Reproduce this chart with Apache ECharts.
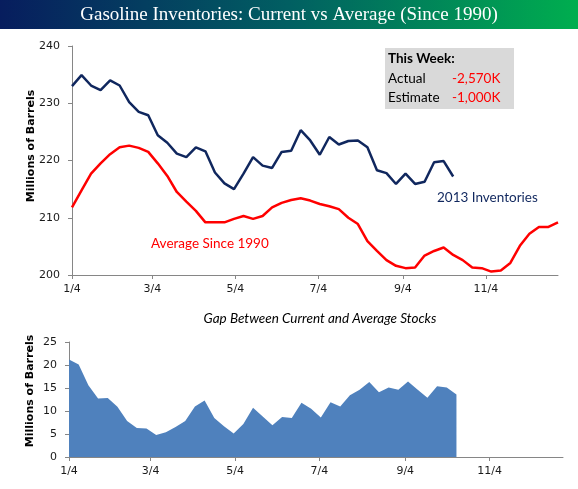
<!DOCTYPE html>
<html><head><meta charset="utf-8">
<script src="https://cdn.jsdelivr.net/npm/echarts@6/dist/echarts.min.js"></script>
<style>html,body{margin:0;padding:0;background:#fff}#c{width:578px;height:489px}</style>
</head><body><div id="c"></div>
<script>
// ---- data ----
const startWeek = '2013-01-04';
const endDate = '2013-12-27';
const tickDates = ['2013-01-04','2013-03-04','2013-05-04','2013-07-04','2013-09-04','2013-11-04'];
const tickLabels = ['1/4','3/4','5/4','7/4','9/4','11/4'];
const inventories2013 = [233.0, 234.9, 233.1, 232.3, 234.0, 233.1, 230.2, 228.5, 227.9, 224.4,
  223.1, 221.2, 220.6, 222.3, 221.6, 217.9, 216.0, 215.0, 217.7, 220.6,
  219.1, 218.7, 221.5, 221.7, 225.3, 223.5, 221.0, 224.1, 222.8, 223.4,
  223.5, 222.3, 218.3, 217.8, 215.9, 217.7, 215.9, 216.3, 219.7, 219.9, 217.2];
const averageSince1990 = [211.8, 214.8, 217.7, 219.5, 221.1, 222.3, 222.6, 222.2, 221.5, 219.5,
  217.3, 214.5, 212.8, 211.2, 209.2, 209.2, 209.2, 209.8, 210.3, 209.8,
  210.3, 211.8, 212.6, 213.1, 213.4, 213.0, 212.4, 212.0, 211.5, 210.0,
  208.9, 205.9, 204.2, 202.6, 201.6, 201.2, 201.3, 203.4, 204.2, 204.8,
  203.5, 202.6, 201.3, 201.2, 200.6, 200.8, 202.1, 205.1, 207.2, 208.4, 208.4, 209.2];
const gapStocks = [21.2, 20.1, 15.6, 12.7, 12.8, 10.9, 7.8, 6.3, 6.2, 4.8,
  5.4, 6.5, 7.8, 11.0, 12.3, 8.5, 6.7, 5.1, 7.2, 10.7,
  8.8, 6.9, 8.7, 8.5, 11.8, 10.5, 8.6, 11.9, 11.0, 13.4,
  14.6, 16.3, 14.1, 15.1, 14.6, 16.4, 14.6, 12.9, 15.4, 15.1, 13.6];
const thisWeekRows = [['Actual','-2,570K'],['Estimate','-1,000K']];

// ---- build (x = days since first week) ----
const DAY = 86400000;
const t0 = Date.parse(startWeek + 'T00:00:00Z');
const dayOf = d => Math.round((Date.parse(d + 'T00:00:00Z') - t0) / DAY);
const xMax = dayOf(endDate);
const pairs = arr => arr.map((v, i) => [i * 7, v]);
const tickVals = tickDates.map(dayOf);
const fmt = v => { const k = tickVals.indexOf(Math.round(v)); return k >= 0 ? tickLabels[k] : ''; };

const axisFont = {fontFamily: 'DejaVu Sans', fontSize: 11, color: '#1a1a1a'};
const axisLine = {show: true, lineStyle: {color: '#868686', width: 1}};

function xAxis(gi) {
  return {type: 'value', gridIndex: gi, min: 0, max: xMax,
    axisLine: axisLine,
    axisTick: {show: true, length: 4, lineStyle: {color: '#868686'}, customValues: tickVals},
    axisLabel: Object.assign({margin: 9, customValues: tickVals, formatter: fmt}, axisFont),
    splitLine: {show: false}};
}

const chart = echarts.init(document.getElementById('c'), null, {renderer: 'canvas'});
chart.setOption({
  animation: false,
  backgroundColor: '#fff',
  grid: [
    {left: 72, right: 20, top: 46, height: 229},
    {left: 69, right: 15, top: 342, height: 115}
  ],
  xAxis: [xAxis(0), xAxis(1)],
  yAxis: [
    {type: 'value', gridIndex: 0, min: 200, max: 240, interval: 10,
      axisLine: axisLine, axisTick: {show: true, length: 4, lineStyle: {color: '#868686'}},
      axisLabel: Object.assign({margin: 12}, axisFont), splitLine: {show: false}},
    {type: 'value', gridIndex: 1, min: 0, max: 25, interval: 5,
      axisLine: axisLine, axisTick: {show: true, length: 4, lineStyle: {color: '#868686'}},
      axisLabel: Object.assign({margin: 12}, axisFont), splitLine: {show: false}}
  ],
  series: [
    {type: 'line', name: 'Average Since 1990', xAxisIndex: 0, yAxisIndex: 0, data: pairs(averageSince1990),
      showSymbol: false, lineStyle: {color: '#ff0000', width: 2.5}, itemStyle: {color: '#ff0000'}},
    {type: 'line', name: '2013 Inventories', xAxisIndex: 0, yAxisIndex: 0, data: pairs(inventories2013),
      showSymbol: false, lineStyle: {color: '#10275e', width: 2.5}, itemStyle: {color: '#10275e'}},
    {type: 'line', name: 'Gap', xAxisIndex: 1, yAxisIndex: 1, data: pairs(gapStocks),
      showSymbol: false, lineStyle: {width: 0}, itemStyle: {color: '#4f81bd'},
      areaStyle: {color: '#4f81bd', opacity: 1}}
  ],
  graphic: [
    {type: 'rect', left: 0, top: 0, shape: {width: 578, height: 29}, z: 0,
      style: {fill: new echarts.graphic.LinearGradient(0, 0, 1, 0, [
        {offset: 0, color: '#071d5e'}, {offset: 0.5, color: '#015f62'}, {offset: 1, color: '#00ae4f'}])}},
    {type: 'text', x: 289, y: 15, z: 2, style: {text: 'Gasoline Inventories: Current vs Average (Since 1990)',
      fill: '#fff', font: '19px "Liberation Serif"', align: 'center', verticalAlign: 'middle'}},
    {type: 'text', x: 31, y: 146, rotation: Math.PI / 2, z: 2, style: {text: 'Millions of Barrels',
      fill: '#000', font: 'bold 11px "DejaVu Sans"', align: 'center', verticalAlign: 'middle'}},
    {type: 'text', x: 30, y: 391, rotation: Math.PI / 2, z: 2, style: {text: 'Millions of Barrels',
      fill: '#000', font: 'bold 11px "DejaVu Sans"', align: 'center', verticalAlign: 'middle'}},
    {type: 'rect', x: 385, y: 48, shape: {width: 129, height: 61}, z: 1, style: {fill: '#d9d9d9'}},
    {type: 'text', x: 388, y: 59, z: 2, style: {text: 'This Week:', fill: '#000', font: 'bold 13.5px Lato', verticalAlign: 'middle'}},
    {type: 'text', x: 388, y: 79, z: 2, style: {text: thisWeekRows[0][0], fill: '#000', font: '13.5px Lato', verticalAlign: 'middle'}},
    {type: 'text', x: 452, y: 79, z: 2, style: {text: thisWeekRows[0][1], fill: '#ff0000', font: '13.5px Lato', verticalAlign: 'middle'}},
    {type: 'text', x: 388, y: 98, z: 2, style: {text: thisWeekRows[1][0], fill: '#000', font: '13.5px Lato', verticalAlign: 'middle'}},
    {type: 'text', x: 452, y: 98, z: 2, style: {text: thisWeekRows[1][1], fill: '#ff0000', font: '13.5px Lato', verticalAlign: 'middle'}},
    {type: 'text', x: 151, y: 244, z: 2, style: {text: 'Average Since 1990', fill: '#ff0000', font: '13.5px Lato', verticalAlign: 'middle'}},
    {type: 'text', x: 437, y: 198, z: 2, style: {text: '2013 Inventories', fill: '#10275e', font: '13.5px Lato', verticalAlign: 'middle'}},
    {type: 'text', x: 320, y: 319, z: 2, style: {text: 'Gap Between Current and Average Stocks', fill: '#000', font: 'italic 13.5px Lato', align: 'center', verticalAlign: 'middle'}}
  ]
});
</script></body></html>
